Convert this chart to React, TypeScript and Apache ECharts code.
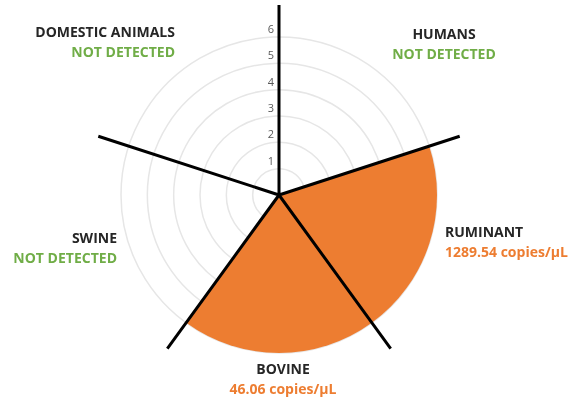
import React, { useEffect, useRef } from "react";
import * as echarts from "echarts";

// Sectors clockwise from 12 o'clock
const categories = ["HUMANS", "RUMINANT", "BOVINE", "SWINE", "DOMESTIC ANIMALS"];
// plotted radius (scale 0-6); detected sources fill the scale
const plotted = [0, 6, 6, 0, 0];
const resultText = ["NOT DETECTED", "1289.54 copies/µL", "46.06 copies/µL", "NOT DETECTED", "NOT DETECTED"];
const radiusTicks = [1, 2, 3, 4, 5, 6];

const ORANGE = "#ED7D31";
const GREEN = "#70AD47";

export default function App() {
  const ref = useRef<HTMLDivElement>(null);
  useEffect(() => {
    const chart = echarts.init(ref.current!, null, { renderer: "svg" });
    const font = "'Open Sans', 'Noto Sans', sans-serif";
    const colorFor = (i: number) => (plotted[i] > 0 ? ORANGE : GREEN);
    // label anchors: [x, y, align]
    const anchors: [number, number, string][] = [
      [444, 33, "center"],
      [445, 231, "left"],
      [283, 368, "center"],
      [117, 237, "right"],
      [175, 31, "right"],
    ];
    const graphics: any[] = [];
    categories.forEach((c, i) => {
      const [x, y, align] = anchors[i];
      graphics.push({
        type: "text",
        x,
        y,
        style: { text: c, fill: "#262626", font: `bold 14px ${font}`, align, verticalAlign: "middle" },
      });
      graphics.push({
        type: "text",
        x,
        y: y + 20,
        style: { text: resultText[i], fill: colorFor(i), font: `bold 14px ${font}`, align, verticalAlign: "middle" },
      });
    });
    chart.setOption({
      animation: false,
      polar: [
        { center: [279, 195], radius: 158 },
        { center: [279, 195], radius: 190 },
      ],
      angleAxis: [
        {
          polarIndex: 0,
          type: "category",
          data: categories,
          startAngle: 90,
          axisLine: { show: false },
          axisTick: { show: false },
          axisLabel: { show: false },
          splitLine: { show: false },
        },
        {
          polarIndex: 1,
          type: "category",
          data: categories,
          startAngle: 90,
          z: 10,
          axisLine: { show: false },
          axisTick: { show: false },
          axisLabel: { show: false },
          splitLine: { show: true, lineStyle: { color: "#000", width: 3 } },
        },
      ],
      radiusAxis: [
        {
          polarIndex: 0,
          type: "value",
          min: 0,
          max: radiusTicks[radiusTicks.length - 1],
          interval: 1,
          axisLine: { show: false },
          axisTick: { show: false },
          axisLabel: {
            color: "#595959",
            fontSize: 11,
            fontFamily: font,
            margin: 5,
            verticalAlign: "bottom",
            padding: [0, 0, 3, 0],
            formatter: (v: number) => (radiusTicks.includes(v) ? String(v) : ""),
          },
          splitLine: { show: true, lineStyle: { color: "#e6e6e6", width: 1.5 } },
          z: 1,
        },
        {
          polarIndex: 1,
          type: "value",
          min: 0,
          max: 7.2,
          axisLine: { show: false },
          axisTick: { show: false },
          axisLabel: { show: false },
          splitLine: { show: false },
        },
      ],
      series: [
        {
          type: "bar",
          coordinateSystem: "polar",
          polarIndex: 0,
          data: plotted,
          barCategoryGap: "0%",
          itemStyle: { color: ORANGE },
          z: 2,
        },
      ],
      graphic: graphics,
    });
    return () => chart.dispose();
  }, []);
  return <div ref={ref} style={{ position: "fixed", left: 0, top: 0, width: 571, height: 401 }} />;
}
